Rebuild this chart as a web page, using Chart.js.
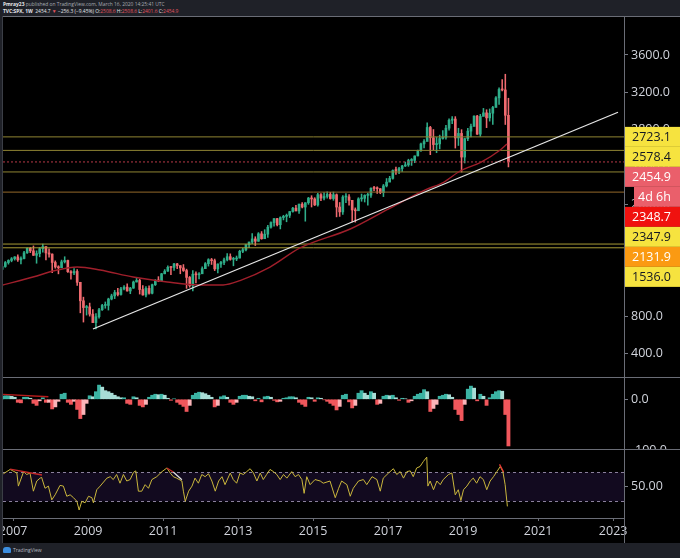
<!DOCTYPE html>
<html>
<head>
<meta charset="utf-8">
<title>SPX 1W</title>
<script src="https://cdn.jsdelivr.net/npm/chart.js@4.4.1/dist/chart.umd.min.js"></script>
<style>
  html, body { margin: 0; padding: 0; }
  body { width: 680px; height: 558px; background: #1f2128; position: relative; overflow: hidden; font-family: "Open Sans", sans-serif; }
  #head { position: absolute; left: 3px; top: 1px; color: #a9acb4; font-size: 4.9px; line-height: 6.8px; white-space: nowrap; }
  #head b { color: #e6e7ea; }
  #head .w { color: #e6e7ea; }
  #head .dn { color: #e25560; }
  #frame { position: absolute; left: 2px; top: 16px; width: 678px; height: 527px; background: #000; border-left: 1px solid #3b3e46; box-sizing: border-box; }
  canvas { position: absolute; left: 3px; }
  .hsep { position: absolute; left: 3px; width: 677px; height: 1px; background: #6a6d76; }
  #vline { position: absolute; left: 624px; top: 16px; width: 1px; height: 527px; background: #6a6d76; }
  #foot { position: absolute; left: 0; top: 543px; width: 680px; height: 15px; background: #1f2128; color: #b8bbc3; font-size: 5px; }
  #foot .logo { position: absolute; left: 3px; top: 4px; width: 8px; height: 6px; background: #3d8fe0; border-radius: 3px 3px 1px 1px; }
  #foot .txt { position: absolute; left: 13px; top: 4px; }
</style>
</head>
<body>
<div id="head">
  <div><b>Pmray23</b> published on TradingView.com, March 16, 2020 14:25:41 UTC</div>
  <div><b>TVC:SPX, 1W</b>&nbsp; <span class="w">2454.7</span> <span class="dn">&#9660;</span> <span class="w">&minus;256.3 (&minus;9.45%)</span> <span class="w">O:</span><span class="dn">2508.6</span> <span class="w">H:</span><span class="dn">2508.6</span> <span class="w">L:</span><span class="dn">2401.6</span> <span class="w">C:</span><span class="dn">2454.9</span></div>
</div>
<div id="frame"></div>
<canvas id="price" width="677" height="361" style="top:16px"></canvas>
<canvas id="macd" width="677" height="71" style="top:378px"></canvas>
<canvas id="rsi" width="677" height="93" style="top:450px"></canvas>
<div class="hsep" style="top:16px"></div>
<div class="hsep" style="top:377px"></div>
<div class="hsep" style="top:449px"></div>
<div id="vline"></div>
<div id="foot"><div class="logo"></div><div class="txt">TradingView</div></div>

<script>
// time axis in fractional years
const xMin = 2006.73, xMax = 2023.29;
const yearTicks = [2007, 2009, 2011, 2013, 2015, 2017, 2019, 2021, 2023];

// monthly candles, Aug 2006 .. Mar 2020
const startYear = 2006, startMonth = 7;
const firstOpen = 1270.9;
const highs = [
  1306.7, 1340.3, 1389.5, 1407.9, 1431.8,
  1441.6, 1461.6, 1438.9, 1498.0, 1535.6, 1540.6, 1555.9, 1503.9, 1538.7, 1576.1, 1545.8, 1523.6,
  1471.8, 1396.0, 1344.2, 1404.6, 1440.2, 1404.1, 1292.2, 1313.2, 1303.0, 1167.0, 1007.5, 918.9,
  943.9, 875.0, 833.0, 888.7, 930.2, 956.2, 996.7, 1039.5, 1080.2, 1101.4, 1113.7, 1130.4,
  1150.5, 1112.4, 1180.2, 1219.8, 1200.3, 1131.2, 1121.0, 1129.2, 1148.9, 1196.1, 1227.1, 1262.6,
  1302.7, 1344.1, 1332.3, 1370.6, 1370.6, 1345.2, 1356.5, 1307.4, 1229.3, 1292.7, 1277.6, 1269.4,
  1333.5, 1378.0, 1419.2, 1422.4, 1415.3, 1363.5, 1391.7, 1426.7, 1474.5, 1471.0, 1434.3, 1448.0,
  1509.9, 1530.9, 1570.3, 1597.6, 1687.2, 1654.2, 1698.8, 1709.7, 1729.9, 1775.2, 1813.6, 1849.4,
  1850.8, 1867.9, 1884.0, 1897.3, 1924.0, 1968.2, 1991.4, 2005.0, 2019.3, 2018.2, 2075.8, 2093.6,
  2072.4, 2119.6, 2117.5, 2125.9, 2134.7, 2129.9, 2132.8, 2112.7, 2020.9, 2094.3, 2116.5, 2104.3,
  2038.2, 1963.0, 2072.2, 2111.1, 2103.5, 2120.6, 2177.1, 2193.8, 2187.9, 2169.6, 2214.1, 2277.5,
  2301.0, 2371.5, 2401.0, 2398.2, 2418.7, 2453.8, 2484.0, 2490.9, 2519.4, 2583.0, 2657.7, 2695.0,
  2872.9, 2836.0, 2801.9, 2717.5, 2742.2, 2791.5, 2848.0, 2916.5, 2940.9, 2939.9, 2815.2, 2800.2,
  2709.0, 2813.5, 2860.3, 2949.5, 2954.1, 2964.2, 3028.0, 3013.6, 3022.0, 3050.1, 3154.3, 3247.9,
  3337.8, 3393.5, 3136.7
];
const lows = [
  1261.3, 1290.9, 1327.1, 1361.0, 1385.9,
  1404.0, 1389.4, 1364.0, 1416.4, 1476.7, 1484.2, 1454.3, 1370.6, 1439.3, 1489.6, 1406.1, 1435.7,
  1270.1, 1316.8, 1257.0, 1324.4, 1373.1, 1272.0, 1200.4, 1247.5, 1133.5, 839.8, 741.0, 815.7,
  804.3, 734.5, 666.8, 783.3, 866.1, 888.9, 869.3, 978.5, 992.0, 1020.2, 1029.4, 1085.9,
  1071.6, 1044.5, 1101.4, 1170.7, 1040.8, 1028.3, 1010.9, 1039.7, 1041.7, 1131.9, 1173.0, 1186.6,
  1257.6, 1282.9, 1249.1, 1294.7, 1311.8, 1258.1, 1282.9, 1101.5, 1114.2, 1074.8, 1158.7, 1202.4,
  1258.9, 1312.4, 1340.0, 1357.4, 1292.0, 1266.7, 1325.4, 1354.7, 1396.6, 1403.3, 1343.4, 1398.1,
  1426.2, 1485.0, 1501.5, 1536.0, 1581.3, 1560.3, 1604.6, 1627.5, 1633.4, 1646.5, 1746.2, 1768.0,
  1770.5, 1737.9, 1834.4, 1814.4, 1859.8, 1916.0, 1930.7, 1904.8, 1964.0, 1820.7, 2001.0, 1972.6,
  1988.1, 1980.9, 2039.7, 2048.4, 2067.9, 2056.3, 2044.0, 1867.0, 1871.9, 1893.7, 2019.4, 1993.3,
  1812.3, 1810.1, 1937.1, 2033.8, 2025.9, 1991.7, 2074.0, 2147.6, 2119.1, 2114.7, 2083.8, 2187.4,
  2245.1, 2271.7, 2322.3, 2329.0, 2352.7, 2405.7, 2407.7, 2417.4, 2446.6, 2520.4, 2566.3, 2605.2,
  2682.4, 2532.7, 2585.9, 2553.8, 2594.6, 2699.0, 2699.0, 2796.3, 2864.1, 2603.5, 2631.1, 2346.6,
  2444.0, 2681.8, 2722.3, 2848.6, 2750.5, 2728.8, 2952.2, 2822.1, 2891.9, 2855.9, 3050.7, 3070.3,
  3214.6, 2855.8, 2401.6
];
const closes = [
  1303.8, 1335.9, 1377.9, 1400.6, 1418.3,
  1438.2, 1406.8, 1420.9, 1482.4, 1530.6, 1503.4, 1455.3, 1474.0, 1526.8, 1549.4, 1481.1, 1468.4,
  1378.6, 1330.6, 1322.7, 1385.6, 1400.4, 1280.0, 1267.4, 1282.8, 1166.4, 968.8, 896.2, 903.3,
  825.9, 735.1, 797.9, 872.8, 919.1, 919.3, 987.5, 1020.6, 1057.1, 1036.2, 1095.6, 1115.1,
  1073.9, 1104.5, 1169.4, 1186.7, 1089.4, 1030.7, 1101.6, 1049.3, 1141.2, 1183.3, 1180.6, 1257.6,
  1286.1, 1327.2, 1325.8, 1363.6, 1345.2, 1320.6, 1292.3, 1218.9, 1131.4, 1253.3, 1247.0, 1257.6,
  1312.4, 1365.7, 1408.5, 1397.9, 1310.3, 1362.2, 1379.3, 1406.6, 1440.7, 1412.2, 1416.2, 1426.2,
  1498.1, 1514.7, 1569.2, 1597.6, 1630.7, 1606.3, 1685.7, 1633.0, 1681.6, 1756.5, 1805.8, 1848.4,
  1782.6, 1859.5, 1872.3, 1884.0, 1923.6, 1960.2, 1930.7, 2003.4, 1972.3, 2018.1, 2067.6, 2058.9,
  1995.0, 2104.5, 2067.9, 2085.5, 2107.4, 2063.1, 2103.8, 1972.2, 1920.0, 2079.4, 2080.4, 2043.9,
  1940.2, 1932.2, 2059.7, 2065.3, 2097.0, 2098.9, 2173.6, 2171.0, 2168.3, 2126.2, 2198.8, 2238.8,
  2278.9, 2363.6, 2362.7, 2384.2, 2411.8, 2423.4, 2470.3, 2471.7, 2519.4, 2575.3, 2647.6, 2673.6,
  2823.8, 2713.8, 2640.9, 2648.1, 2705.3, 2718.4, 2816.3, 2901.5, 2914.0, 2711.7, 2760.2, 2506.9,
  2704.1, 2784.5, 2834.4, 2945.8, 2752.1, 2941.8, 2980.4, 2926.5, 2976.7, 3037.6, 3141.0, 3230.8,
  3225.5, 2954.2, 2454.9
];

// histogram pane, same months
const macdHist = [
  5, 6, 7, 7, 6,
  4, -6, -7, 4, 4, 2, -8, -12, -3, 3, -6, -6,
  -19, -15, -4, 10, 12, -6, -10, -4, -20, -38, -30, -8,
  7, 5, 15, 28, 24, 17, 15, 12, 8, 5, 3, 3,
  -8, -10, 5, 3, -12, -15, -10, 4, 8, 10, 9, 10,
  8, 2, -2, 1, -6, -10, -14, -24, -12, 8, 12, 14,
  13, 11, 8, 4, -15, -12, 5, 7, 4, -6, -10, -6,
  6, 8, 8, 6, 5, -3, 2, -5, 5, 6, 4, -2,
  -5, -4, 2, 3, 5, 5, 3, -6, -10, -14, 4, 3,
  -4, 3, 2, -1, -4, -8, -12, -21, -14, 8, 10, -5,
  -17, -12, 12, 17, 12, 8, 15, 12, -10, -8, 6, 8,
  7, 8, 3, -2, 2, 1, -6, -3, 6, 10, 12, 19,
  15, -24, -18, -10, 6, 8, 10, 9, 4, -20, -30, -42,
  -10, 20, 26, 22, -3, 10, 6, -12, 3, 10, 15, 17,
  16, -30, -92
];

// red moving average
const maYears  = [2006.73, 2007.53, 2008.17, 2008.71, 2009.32, 2010.2, 2011.11, 2011.99, 2012.6, 2013.05, 2013.85, 2014.65, 2015.99, 2017.0, 2017.99, 2018.49, 2018.92, 2019.48, 2019.99, 2020.17];
const maValues = [1138, 1223, 1298, 1330, 1298, 1223, 1170, 1138, 1138, 1185, 1330, 1534, 1737, 1950, 2155, 2240, 2358, 2454, 2583, 2647];

// white trend line
const trendYears = [2009.13, 2023.13];
const trendValues = [666.8, 2987];

// horizontal levels
const levelValues = [2723.1, 2578.4, 2347.9, 2131.9, 1576.0, 1536.0];
const levelColors = ['#8f8433', '#8f8433', '#8f8433', '#94692a', '#a89b36', '#a89b36'];
const lastPrice = 2454.9;

// price tags on the right axis
const tagValues = [2723.1, 2578.4, 2454.9, 2348.7, 2347.9, 2131.9, 1536.0];
const tagBg = ['#f6e33f', '#f6e33f', '#ea5f6b', '#f0120f', '#f6e33f', '#fb9a12', '#f6e33f'];
const tagFg = ['#131722', '#131722', '#ffffff', '#ffffff', '#131722', '#ffffff', '#131722'];
const countdown = '4d 6h';
const priceTicks = [400, 800, 1200, 1600, 2000, 2400, 2800, 3200, 3600];

// oscillator pane
const rsiX = [
  2006.74, 2006.92, 2007.10, 2007.14, 2007.28, 2007.36, 2007.45, 2007.54, 2007.63, 2007.72,
  2007.76, 2007.85, 2007.94, 2008.03, 2008.12, 2008.25, 2008.34, 2008.43, 2008.52, 2008.61,
  2008.70, 2008.76, 2008.83, 2008.92, 2009.01, 2009.10, 2009.14, 2009.23, 2009.32, 2009.50,
  2009.59, 2009.67, 2009.76, 2009.85, 2009.94, 2010.03, 2010.12, 2010.21, 2010.27, 2010.34,
  2010.43, 2010.52, 2010.61, 2010.70, 2010.83, 2010.97, 2011.10, 2011.19, 2011.27, 2011.36,
  2011.50, 2011.54, 2011.59, 2011.68, 2011.77, 2011.85, 2011.94, 2012.03, 2012.12, 2012.21,
  2012.30, 2012.39, 2012.48, 2012.57, 2012.65, 2012.79, 2012.87, 2012.96, 2013.05, 2013.14,
  2013.23, 2013.32, 2013.41, 2013.50, 2013.59, 2013.67, 2013.76, 2013.85, 2013.94, 2014.03,
  2014.12, 2014.21, 2014.30, 2014.43, 2014.52, 2014.61, 2014.70, 2014.76, 2014.83, 2014.92,
  2015.05, 2015.19, 2015.27, 2015.45, 2015.59, 2015.68, 2015.76, 2015.90, 2015.99, 2016.07,
  2016.21, 2016.34, 2016.43, 2016.57, 2016.70, 2016.79, 2016.87, 2017.01, 2017.14, 2017.23,
  2017.32, 2017.41, 2017.50, 2017.59, 2017.67, 2017.76, 2017.85, 2017.94, 2018.03, 2018.06,
  2018.12, 2018.21, 2018.30, 2018.39, 2018.47, 2018.61, 2018.70, 2018.79, 2018.87, 2018.94,
  2019.01, 2019.10, 2019.19, 2019.27, 2019.36, 2019.45, 2019.54, 2019.63, 2019.72, 2019.81,
  2019.90, 2019.99, 2020.06, 2020.12, 2020.18
];
const rsiY = [
  68, 74, 69, 51, 71, 67, 69, 44, 58, 62,
  63, 48, 51, 32, 39, 52, 51, 37, 39, 35,
  30, 18, 30, 28, 37, 35, 28, 46, 51, 62,
  64, 60, 67, 55, 67, 58, 60, 70, 72, 44,
  44, 53, 48, 60, 64, 71, 76, 69, 64, 62,
  58, 44, 30, 44, 51, 62, 55, 67, 64, 68,
  58, 44, 58, 64, 53, 69, 60, 55, 69, 67,
  71, 75, 69, 58, 69, 60, 67, 74, 71, 67,
  60, 67, 62, 71, 64, 67, 60, 41, 64, 53,
  60, 58, 55, 58, 35, 48, 58, 53, 37, 48,
  58, 60, 53, 64, 60, 44, 62, 69, 75, 67,
  71, 62, 71, 72, 64, 76, 78, 85, 91, 51,
  58, 46, 58, 53, 60, 67, 69, 39, 46, 31,
  46, 51, 58, 62, 55, 64, 60, 46, 58, 64,
  71, 78, 71, 53, 23
];
const rsiBand = [30, 70];

// small hand-drawn marks in the lower panes
const macdMarkX = [2006.70, 2007.94];
const macdMarkY = [10, 5];
const rsiMarks = [
  { x: [2006.92, 2007.77], y: [74.5, 66.3], color: '#c62828' },
  { x: [2011.10, 2011.27], y: [76, 70.4], color: '#c62828' },
  { x: [2011.27, 2011.50], y: [70.4, 59.7], color: '#e0e0e0' },
  { x: [2019.97, 2020.08], y: [81, 70.4], color: '#e53935' }
];

const monthX = closes.map((c, i) => startYear + (startMonth + i + 0.5) / 12);
const opens = closes.map((c, i) => i === 0 ? firstOpen : closes[i - 1]);

Chart.defaults.font.family = '"Open Sans", sans-serif';
Chart.defaults.font.size = 12.5;
Chart.defaults.color = '#d1d4dc';

const upColor = '#2fae8a', downColor = '#ef6a6f';

function xScale(show) {
  return {
    type: 'linear', min: xMin, max: xMax, offset: false, display: show,
    afterBuildTicks: s => { s.ticks = yearTicks.map(v => ({ value: v })); },
    afterFit: s => { if (show) s.height = 25; s.paddingLeft = 0; s.paddingRight = 0; },
    grid: { drawOnChartArea: false, drawTicks: true, tickLength: 3, color: '#6a6d76', offset: false },
    border: { display: true, color: '#6a6d76' },
    ticks: { maxRotation: 0, autoSkip: false, padding: 3, callback: v => String(v) }
  };
}
function yScale(min, max, ticks, digits) {
  return {
    type: 'linear', position: 'right', min: min, max: max,
    afterBuildTicks: s => { s.ticks = ticks.map(v => ({ value: v })); },
    afterFit: s => { s.width = 56; s.paddingTop = 0; s.paddingBottom = 0; },
    grid: { drawOnChartArea: false, drawTicks: true, tickLength: 4, color: '#787b86' },
    border: { display: false },
    ticks: { padding: 3, callback: v => v.toFixed(digits) }
  };
}
const baseOpts = {
  responsive: false, animation: false, events: [],
  layout: { padding: 0, autoPadding: false },
  plugins: { legend: { display: false }, tooltip: { enabled: false } }
};
function lineSet(xs, ys, color, extra) {
  return Object.assign({
    type: 'line', data: xs.map((x, i) => ({ x: x, y: ys[i] })),
    borderColor: color, borderWidth: 1, pointRadius: 0, fill: false
  }, extra || {});
}

const priceTagPlugin = {
  id: 'priceTags',
  afterDraw(chart) {
    const { ctx, chartArea } = chart;
    const y = chart.scales.y;
    const left = chartArea.right + 1;
    let prevBottom = -Infinity;
    ctx.save();
    ctx.font = '12.5px "Open Sans"';
    ctx.textBaseline = 'middle';
    tagValues.forEach((v, i) => {
      const top = Math.max(y.getPixelForValue(v) - 10, prevBottom);
      ctx.fillStyle = tagBg[i];
      ctx.fillRect(left, top, 56, 20);
      ctx.fillStyle = tagFg[i];
      ctx.fillText(v.toFixed(1), chartArea.right + 8, top + 10.5);
      prevBottom = top + 20;
      if (v === lastPrice) {
        ctx.fillStyle = tagBg[i];
        ctx.fillRect(left + 9, prevBottom, 47, 20);
        ctx.fillStyle = '#ffffff';
        ctx.fillText(countdown, chartArea.right + 14, prevBottom + 10.5);
        prevBottom += 20;
      }
    });
    ctx.restore();
  }
};

new Chart(document.getElementById('price'), {
  type: 'bar',
  data: {
    datasets: [
      lineSet(trendYears, trendValues, '#e6e6e6', { borderWidth: 1.3, order: 0 }),
      lineSet(maYears, maValues, '#a01f2b', { borderWidth: 1.4, tension: 0.4, cubicInterpolationMode: 'monotone', order: 1 }),
      ...levelValues.map((v, i) => lineSet([xMin, xMax], [v, v], levelColors[i], { order: 2 })),
      lineSet([xMin, xMax], [lastPrice, lastPrice], '#b83a48', { borderDash: [2, 2], order: 2 }),
      {
        type: 'bar', order: 3, grouped: false, barThickness: 2, minBarLength: 1,
        data: monthX.map((x, i) => ({ x: x, y: [opens[i], closes[i]] })),
        backgroundColor: monthX.map((x, i) => closes[i] >= opens[i] ? upColor : downColor)
      },
      {
        type: 'bar', order: 4, grouped: false, barThickness: 0.9,
        data: monthX.map((x, i) => ({ x: x, y: [lows[i], highs[i]] })),
        backgroundColor: monthX.map((x, i) => closes[i] >= opens[i] ? upColor : downColor)
      }
    ]
  },
  options: Object.assign({}, baseOpts, {
    scales: { x: xScale(false), y: yScale(153, 4017, priceTicks, 1) }
  }),
  plugins: [priceTagPlugin]
});

new Chart(document.getElementById('macd'), {
  type: 'bar',
  data: {
    datasets: [
      lineSet(macdMarkX, macdMarkY, '#b71c1c', { borderWidth: 1.3, order: 0 }),
      {
        type: 'bar', order: 1, grouped: false, barThickness: 3.2,
        data: monthX.map((x, i) => ({ x: x, y: macdHist[i] })),
        backgroundColor: macdHist.map((v, i) => {
          const prev = i ? macdHist[i - 1] : v;
          if (v >= 0) return v >= prev ? '#3bb3a3' : '#a8ddd6';
          return v < prev ? '#f0575c' : '#fbb4b8';
        })
      }
    ]
  },
  options: Object.assign({}, baseOpts, {
    scales: { x: xScale(false), y: yScale(-98, 42, [0, -100], 1) }
  })
});

const bandPlugin = {
  id: 'rsiBand',
  beforeDatasetsDraw(chart) {
    const { ctx, chartArea } = chart;
    const y = chart.scales.y;
    const y1 = y.getPixelForValue(rsiBand[1]), y0 = y.getPixelForValue(rsiBand[0]);
    ctx.save();
    ctx.fillStyle = 'rgba(110, 60, 190, 0.16)';
    ctx.fillRect(chartArea.left, y1, chartArea.right - chartArea.left, y0 - y1);
    ctx.strokeStyle = '#8a809c';
    ctx.lineWidth = 1;
    ctx.setLineDash([3, 3]);
    [y1, y0].forEach(p => {
      ctx.beginPath();
      ctx.moveTo(chartArea.left, Math.round(p) + 0.5);
      ctx.lineTo(chartArea.right, Math.round(p) + 0.5);
      ctx.stroke();
    });
    ctx.restore();
  }
};

new Chart(document.getElementById('rsi'), {
  type: 'line',
  data: {
    datasets: [
      ...rsiMarks.map(m => lineSet(m.x, m.y, m.color, { borderWidth: 1.3, order: 0 })),
      lineSet(rsiX, rsiY, '#c9b63c', { order: 1 })
    ]
  },
  options: Object.assign({}, baseOpts, {
    scales: { x: xScale(true), y: yScale(7, 100.8, [50], 2) }
  }),
  plugins: [bandPlugin]
});
</script>
</body>
</html>
